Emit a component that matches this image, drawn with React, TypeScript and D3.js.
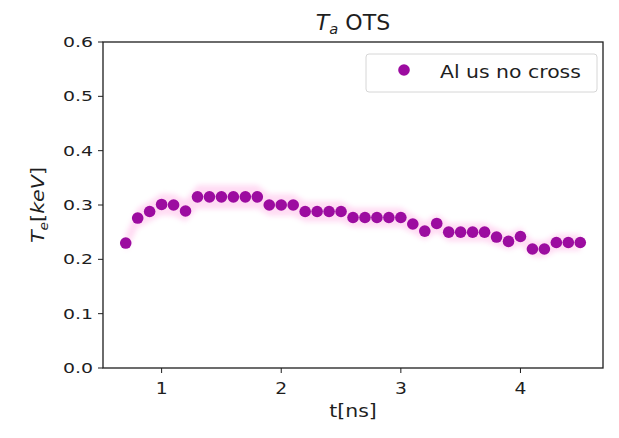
import React from "react";
import * as d3 from "d3";

// Electron temperature samples, t in ns
const times = [
  0.7, 0.8, 0.9, 1.0, 1.1, 1.2, 1.3, 1.4, 1.5, 1.6, 1.7, 1.8, 1.9, 2.0, 2.1, 2.2,
  2.3, 2.4, 2.5, 2.6, 2.7, 2.8, 2.9, 3.0, 3.1, 3.2, 3.3, 3.4, 3.5, 3.6, 3.7, 3.8,
  3.9, 4.0, 4.1, 4.2, 4.3, 4.4, 4.5,
];
const temps = [
  0.23, 0.276, 0.288, 0.301, 0.3, 0.289, 0.315, 0.315, 0.315, 0.315, 0.315, 0.315,
  0.3, 0.3, 0.3, 0.288, 0.288, 0.288, 0.288, 0.277, 0.277, 0.277, 0.277, 0.277,
  0.265, 0.252, 0.266, 0.25, 0.25, 0.25, 0.25, 0.241, 0.233, 0.242, 0.219, 0.219,
  0.231, 0.231, 0.231,
];
const errors = [
  0.016, 0.018, 0.019, 0.02, 0.02, 0.02, 0.022, 0.022, 0.022, 0.022, 0.022, 0.022,
  0.02, 0.02, 0.02, 0.019, 0.019, 0.019, 0.019, 0.018, 0.018, 0.018, 0.018, 0.018,
  0.017, 0.017, 0.017, 0.017, 0.017, 0.017, 0.017, 0.016, 0.016, 0.016, 0.015, 0.015,
  0.015, 0.015, 0.015,
];
const xTicks = [1, 2, 3, 4];
const yTicks = [0.0, 0.1, 0.2, 0.3, 0.4, 0.5, 0.6];
const seriesLabel = "Al us no cross";

const W = 619;
const H = 438;
const left = 103;
const right = 603;
const top = 42;
const bottom = 368;
const font = "DejaVu Sans, sans-serif";
const dotColor = "#9c0ca0";
const ink = "#1e1e1e";

export default function App() {
  const pad = (4.5 - 0.7) * 0.05;
  const x = d3.scaleLinear().domain([0.7 - pad, 4.5 + pad]).range([left, right]);
  const y = d3.scaleLinear().domain([0, 0.6]).range([bottom, top]);

  const rows = times.map((t, i) => ({ t, v: temps[i], e: errors[i] }));
  const band = d3
    .area<{ t: number; v: number; e: number }>()
    .x((d) => x(d.t))
    .y0((d) => y(d.v - d.e))
    .y1((d) => y(d.v + d.e))(rows);

  return (
    <svg
      width={W}
      height={H}
      style={{ position: "absolute", left: 0, top: 0, background: "#fff" }}
      fontFamily={font}
    >
      <defs>
        <filter id="soft" x="-10%" y="-50%" width="120%" height="200%">
          <feGaussianBlur stdDeviation="2.5" />
        </filter>
      </defs>
      <rect x={0} y={0} width={W} height={H} fill="#fff" />

      {/* uncertainty band */}
      <path d={band ?? ""} fill="#ff7fd4" opacity={0.28} filter="url(#soft)" />

      {/* data points */}
      {rows.map((d, i) => (
        <circle key={i} cx={x(d.t)} cy={y(d.v)} r={5.8} fill={dotColor} />
      ))}

      {/* frame */}
      <rect
        x={left}
        y={top}
        width={right - left}
        height={bottom - top}
        fill="none"
        stroke={ink}
        strokeWidth={1.3}
      />

      {/* x axis */}
      {xTicks.map((t) => (
        <g key={t}>
          <line x1={x(t)} x2={x(t)} y1={bottom} y2={bottom + 5} stroke={ink} strokeWidth={1} />
          <text
            transform={`translate(${x(t)}, ${bottom + 26}) scale(1.25, 1)`}
            textAnchor="middle"
            fontSize={15}
            fill={ink}
          >
            {t}
          </text>
        </g>
      ))}
      <text
        transform={`translate(${(left + right) / 2}, 417) scale(1.2, 1)`}
        textAnchor="middle"
        fontSize={17}
        fill={ink}
      >
        t[ns]
      </text>

      {/* y axis */}
      {yTicks.map((t) => (
        <g key={t}>
          <line x1={left - 5} x2={left} y1={y(t)} y2={y(t)} stroke={ink} strokeWidth={1} />
          <text
            transform={`translate(${left - 10}, ${y(t) + 5}) scale(1.35, 1)`}
            textAnchor="end"
            fontSize={14}
            fill={ink}
          >
            {t.toFixed(1)}
          </text>
        </g>
      ))}
      <text
        transform={`translate(44, ${(top + bottom) / 2}) rotate(-90) scale(1.15, 1)`}
        textAnchor="middle"
        fontSize={18}
        fill={ink}
      >
        <tspan fontStyle="italic">T</tspan>
        <tspan fontSize={12} fontStyle="italic" dy={4}>e</tspan>
        <tspan dy={-4}>[</tspan>
        <tspan fontStyle="italic">keV</tspan>
        <tspan>]</tspan>
      </text>

      {/* title */}
      <text
        transform={`translate(${(left + right) / 2}, 30) scale(1.05, 1)`}
        textAnchor="middle"
        fontSize={21}
        fill={ink}
      >
        <tspan fontStyle="italic">T</tspan>
        <tspan fontSize={14} fontStyle="italic" dy={4}>a</tspan>
        <tspan dy={-4}> OTS</tspan>
      </text>

      {/* legend */}
      <rect
        x={366}
        y={54}
        width={231}
        height={38}
        rx={3}
        fill="#fff"
        fillOpacity={0.8}
        stroke="#d6d6d6"
        strokeWidth={1}
      />
      <circle cx={404} cy={70} r={5.8} fill={dotColor} />
      <text
        transform="translate(440, 78) scale(1.2, 1)"
        fontSize={17}
        fill={ink}
      >
        {seriesLabel}
      </text>
    </svg>
  );
}
